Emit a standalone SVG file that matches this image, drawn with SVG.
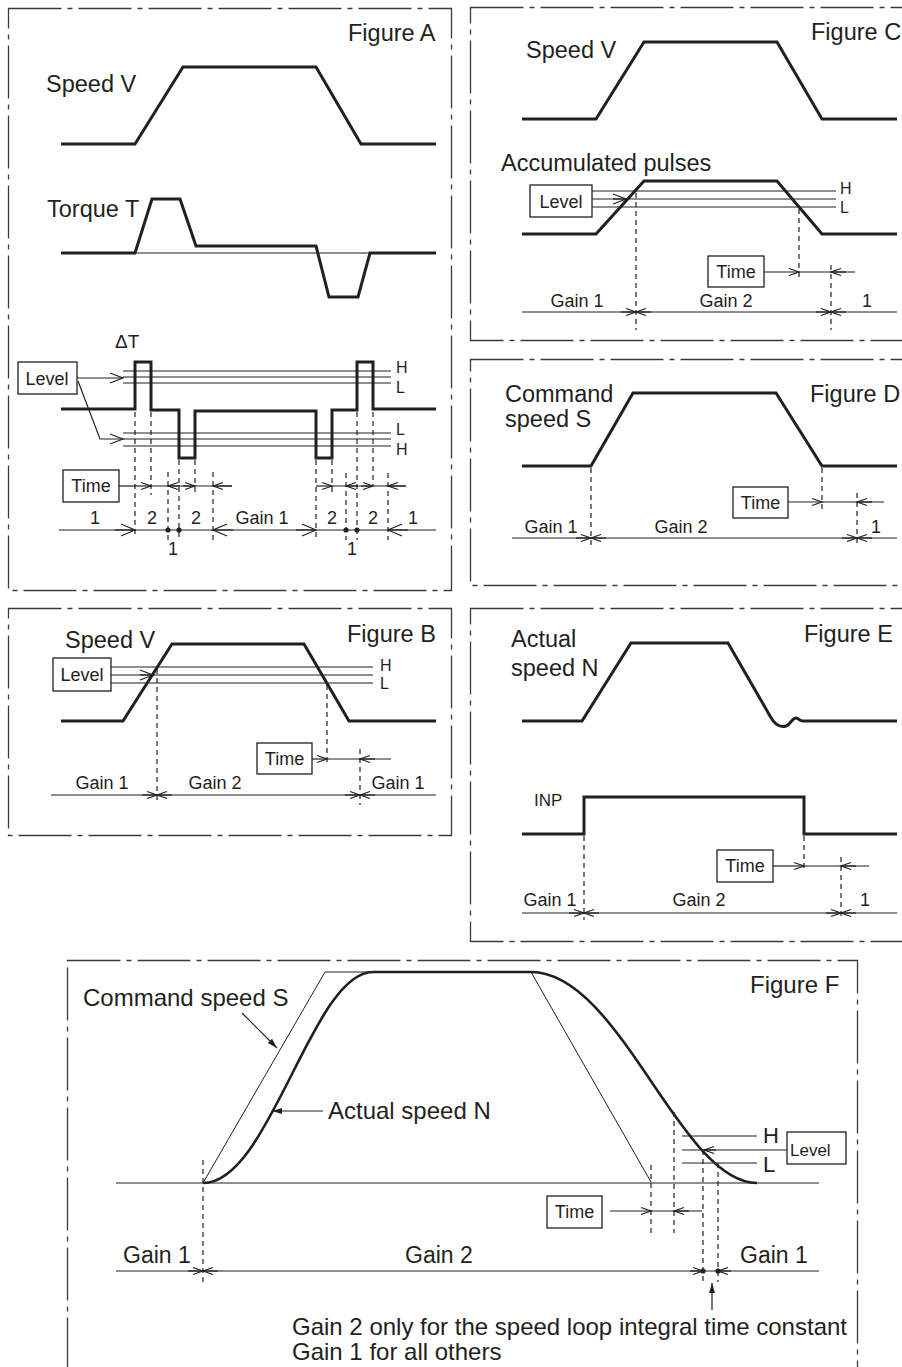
<svg xmlns="http://www.w3.org/2000/svg" width="902" height="1367" viewBox="0 0 902 1367">
<style>
.frame{fill:none;stroke:#3a3a3a;stroke-width:1.3;stroke-dasharray:53 6 5 6}
.thick{fill:none;stroke:#231f20;stroke-width:3;stroke-linejoin:miter}
.thin{fill:none;stroke:#231f20;stroke-width:1.2}
.dash{fill:none;stroke:#231f20;stroke-width:1.2;stroke-dasharray:5 4}
.box{fill:#fff;stroke:#231f20;stroke-width:1.3}
text{font-family:"Liberation Sans",Arial,sans-serif;fill:#231f20}
.big{font-size:23.5px}
.lbl{font-size:18px}
.hl{font-size:16px}
.m{text-anchor:middle}
</style>
<defs>
<marker id="a" viewBox="0 0 10 7" refX="10" refY="3.5" markerWidth="10" markerHeight="7" markerUnits="userSpaceOnUse" orient="auto" overflow="visible"><path d="M0,0 L10,3.5 L0,7" fill="none" stroke="#231f20" stroke-width="1.2"/></marker>
<marker id="lv" viewBox="0 0 13 10" refX="13" refY="5" markerWidth="13" markerHeight="10" markerUnits="userSpaceOnUse" orient="auto" overflow="visible"><path d="M0,0 L13,5 L0,10" fill="none" stroke="#231f20" stroke-width="1.2"/></marker>
<marker id="g" viewBox="0 0 14 12" refX="14" refY="6" markerWidth="14" markerHeight="12" markerUnits="userSpaceOnUse" orient="auto" overflow="visible"><path d="M0,0 L14,6 L0,12" fill="none" stroke="#231f20" stroke-width="1.2"/></marker>
<marker id="fa" viewBox="0 0 10 6" refX="10" refY="3" markerWidth="10" markerHeight="6" markerUnits="userSpaceOnUse" orient="auto" overflow="visible"><path d="M0,0 L10,3 L0,6 Z" fill="#231f20"/></marker>
</defs>
<rect width="902" height="1367" fill="#fff"/>

<g id="figureA">
<rect class="frame" x="8.5" y="8.5" width="443" height="582"/>
<text class="big" x="348" y="41">Figure A</text>
<text class="big" x="46" y="92">Speed V</text>
<path class="thick" d="M61,144 L135,144 L183,67 L316,67 L361,144 L436,144"/>
<text class="big" x="47" y="217">Torque T</text>
<line class="thin" x1="61" y1="253" x2="436" y2="253"/>
<path class="thick" d="M61,253 L135,253 L152,199 L180,199 L196,246 L316,246 L329,297 L358,297 L370,253 L436,253"/>
<text x="115" y="348" font-size="19">ΔT</text>
<g id="A-level">
<rect class="box" x="18" y="362" width="59" height="32"/>
<text class="lbl m" x="47" y="385">Level</text>
</g>
<g class="thin">
<line x1="123" y1="371" x2="391" y2="371"/><line x1="123" y1="377" x2="391" y2="377"/><line x1="123" y1="383" x2="391" y2="383"/>
<line x1="123" y1="433" x2="391" y2="433"/><line x1="123" y1="439" x2="391" y2="439"/><line x1="123" y1="446" x2="391" y2="446"/>
</g>
<text class="hl" x="396" y="373">H</text>
<text class="hl" x="396" y="393">L</text>
<text class="hl" x="396" y="435">L</text>
<text class="hl" x="396" y="455">H</text>
<path class="thick" d="M61,409 L135,409 L135,362 L151,362 L151,410 L179,410 L179,458 L195,458 L195,411 L316,411 L316,458 L332,458 L332,410 L357,410 L357,362 L373,362 L373,409 L436,409"/>
<g class="dash">
<line x1="135" y1="412" x2="135" y2="538"/><line x1="151" y1="412" x2="151" y2="495"/>
<line x1="168" y1="472" x2="168" y2="540"/><line x1="179" y1="460" x2="179" y2="540"/>
<line x1="195" y1="460" x2="195" y2="495"/><line x1="213" y1="472" x2="213" y2="540"/>
<line x1="316" y1="460" x2="316" y2="538"/><line x1="332" y1="460" x2="332" y2="495"/>
<line x1="346" y1="473" x2="346" y2="540"/><line x1="357" y1="412" x2="357" y2="540"/>
<line x1="373" y1="412" x2="373" y2="485"/><line x1="388" y1="473" x2="388" y2="540"/>
</g>
<g id="A-time">
<rect class="box" x="63" y="470" width="56" height="32"/>
<text class="lbl m" x="91" y="492">Time</text>
</g>
<g id="A-connectors">
<line class="thin" x1="77" y1="378" x2="123" y2="378" marker-end="url(#lv)"/>
<polyline class="thin" points="78,381 100,439 123,439" marker-end="url(#lv)"/>
<line class="thin" x1="119" y1="486" x2="151" y2="486" marker-end="url(#a)"/>
<line class="thin" x1="151" y1="486" x2="232" y2="486"/>
<line class="thin" x1="180" y1="486" x2="168" y2="486" marker-end="url(#a)"/>
<line class="thin" x1="183" y1="486" x2="195" y2="486" marker-end="url(#a)"/>
<line class="thin" x1="232" y1="486" x2="213" y2="486" marker-end="url(#a)"/>
<line class="thin" x1="316" y1="486" x2="332" y2="486" marker-end="url(#a)"/>
<line class="thin" x1="332" y1="486" x2="406" y2="486"/>
<line class="thin" x1="358" y1="486" x2="346" y2="486" marker-end="url(#a)"/>
<line class="thin" x1="361" y1="486" x2="373" y2="486" marker-end="url(#a)"/>
<line class="thin" x1="406" y1="486" x2="388" y2="486" marker-end="url(#a)"/>
<line class="thin" x1="59" y1="530" x2="436" y2="530"/>
<line class="thin" x1="115" y1="530" x2="135" y2="530" marker-end="url(#g)"/>
<line class="thin" x1="233" y1="530" x2="213" y2="530" marker-end="url(#g)"/>
<line class="thin" x1="296" y1="530" x2="316" y2="530" marker-end="url(#g)"/>
<line class="thin" x1="408" y1="530" x2="388" y2="530" marker-end="url(#g)"/>
<circle cx="168" cy="530" r="2.6" fill="#231f20"/><circle cx="179" cy="530" r="2.6" fill="#231f20"/>
<circle cx="346" cy="530" r="2.6" fill="#231f20"/><circle cx="357" cy="530" r="2.6" fill="#231f20"/>
</g>
<g class="lbl">
<text class="lbl m" x="95" y="524">1</text>
<text class="lbl m" x="152" y="524">2</text>
<text class="lbl m" x="196" y="524">2</text>
<text class="lbl m" x="262" y="524">Gain 1</text>
<text class="lbl m" x="332" y="524">2</text>
<text class="lbl m" x="373" y="524">2</text>
<text class="lbl m" x="413" y="524">1</text>
<text class="lbl m" x="173" y="555">1</text>
<text class="lbl m" x="352" y="555">1</text>
</g>
</g>

<g id="figureB">
<rect class="frame" x="8.5" y="608.5" width="443" height="227"/>
<text class="big" x="347" y="642">Figure B</text>
<text class="big" x="65" y="648">Speed V</text>
<g class="thin">
<line x1="111" y1="667" x2="373" y2="667"/><line x1="111" y1="675" x2="373" y2="675"/><line x1="111" y1="683" x2="373" y2="683"/>
</g>
<g id="B-level">
<rect class="box" x="53" y="658" width="58" height="33"/>
<text class="lbl m" x="82" y="681">Level</text>
</g>
<text class="hl" x="380" y="671">H</text>
<text class="hl" x="380" y="689">L</text>
<path class="thick" d="M61,721 L123,721 L172,644 L304,644 L349,721 L436,721"/>
<g class="dash">
<line x1="157" y1="669" x2="157" y2="802"/><line x1="327" y1="685" x2="327" y2="763"/><line x1="360" y1="749" x2="360" y2="805"/>
</g>
<g id="B-time">
<rect class="box" x="257" y="743" width="55" height="31"/>
<text class="lbl m" x="284.5" y="765">Time</text>
</g>
<g id="B-connectors">
<line class="thin" x1="140" y1="675" x2="153" y2="675" marker-end="url(#lv)"/>
<line class="thin" x1="312" y1="759" x2="327" y2="759" marker-end="url(#a)"/>
<line class="thin" x1="327" y1="759" x2="391" y2="759"/>
<line class="thin" x1="375" y1="759" x2="360" y2="759" marker-end="url(#a)"/>
<line class="thin" x1="51" y1="795" x2="436" y2="795"/>
<line class="thin" x1="142" y1="795" x2="157" y2="795" marker-end="url(#a)"/>
<line class="thin" x1="172" y1="795" x2="157" y2="795" marker-end="url(#a)"/>
<line class="thin" x1="345" y1="795" x2="360" y2="795" marker-end="url(#a)"/>
<line class="thin" x1="375" y1="795" x2="360" y2="795" marker-end="url(#a)"/>
</g>
<text class="lbl m" x="102" y="789">Gain 1</text>
<text class="lbl m" x="215" y="789">Gain 2</text>
<text class="lbl m" x="398" y="789">Gain 1</text>
</g>

<g id="figureC">
<rect class="frame" x="470.5" y="7.5" width="445" height="333"/>
<text class="big" x="811" y="40">Figure C</text>
<text class="big" x="526" y="58">Speed V</text>
<path class="thick" d="M522,119 L596,119 L644,42 L777,42 L822,119 L897,119"/>
<text class="big" x="501" y="171">Accumulated pulses</text>
<g class="thin">
<line x1="592" y1="191" x2="836" y2="191"/><line x1="592" y1="199" x2="836" y2="199"/><line x1="592" y1="207" x2="836" y2="207"/>
</g>
<path class="thick" d="M522,234 L596,234 L644,181 L777,181 L822,234 L897,234"/>
<g id="C-level">
<rect class="box" x="530" y="185" width="62" height="32"/>
<text class="lbl m" x="561" y="208">Level</text>
</g>
<text class="hl" x="840" y="194">H</text>
<text class="hl" x="840" y="213">L</text>
<g class="dash">
<line x1="636" y1="193" x2="636" y2="330"/><line x1="799" y1="209" x2="799" y2="277"/><line x1="831" y1="265" x2="831" y2="330"/>
</g>
<g id="C-time">
<rect class="box" x="708" y="256" width="56" height="31"/>
<text class="lbl m" x="736" y="278">Time</text>
</g>
<g id="C-connectors">
<line class="thin" x1="613" y1="199" x2="626" y2="199" marker-end="url(#lv)"/>
<line class="thin" x1="764" y1="272" x2="799" y2="272" marker-end="url(#a)"/>
<line class="thin" x1="799" y1="272" x2="855" y2="272"/>
<line class="thin" x1="846" y1="272" x2="831" y2="272" marker-end="url(#a)"/>
<line class="thin" x1="522" y1="312" x2="897" y2="312"/>
<line class="thin" x1="621" y1="312" x2="636" y2="312" marker-end="url(#a)"/>
<line class="thin" x1="651" y1="312" x2="636" y2="312" marker-end="url(#a)"/>
<line class="thin" x1="816" y1="312" x2="831" y2="312" marker-end="url(#a)"/>
<line class="thin" x1="846" y1="312" x2="831" y2="312" marker-end="url(#a)"/>
</g>
<text class="lbl m" x="577" y="307">Gain 1</text>
<text class="lbl m" x="726" y="307">Gain 2</text>
<text class="lbl m" x="867" y="307">1</text>
</g>

<g id="figureD">
<rect class="frame" x="470.5" y="359.5" width="445" height="226"/>
<text class="big" x="505" y="402">Command</text>
<text class="big" x="505" y="427">speed S</text>
<text class="big" x="810" y="402">Figure D</text>
<path class="thick" d="M522,466 L591,466 L633,393 L776,393 L822,466 L897,466"/>
<g class="dash">
<line x1="591" y1="468" x2="591" y2="547"/><line x1="822" y1="468" x2="822" y2="512"/><line x1="857" y1="493" x2="857" y2="547"/>
</g>
<g id="D-time">
<rect class="box" x="733" y="487" width="55" height="31"/>
<text class="lbl m" x="760.5" y="509">Time</text>
</g>
<g id="D-connectors">
<line class="thin" x1="788" y1="502" x2="822" y2="502" marker-end="url(#a)"/>
<line class="thin" x1="822" y1="502" x2="884" y2="502"/>
<line class="thin" x1="872" y1="502" x2="857" y2="502" marker-end="url(#a)"/>
<line class="thin" x1="512" y1="538" x2="897" y2="538"/>
<line class="thin" x1="576" y1="538" x2="591" y2="538" marker-end="url(#a)"/>
<line class="thin" x1="606" y1="538" x2="591" y2="538" marker-end="url(#a)"/>
<line class="thin" x1="842" y1="538" x2="857" y2="538" marker-end="url(#a)"/>
<line class="thin" x1="872" y1="538" x2="857" y2="538" marker-end="url(#a)"/>
</g>
<text class="lbl m" x="551" y="533">Gain 1</text>
<text class="lbl m" x="681" y="533">Gain 2</text>
<text class="lbl m" x="876" y="533">1</text>
</g>

<g id="figureE">
<rect class="frame" x="470.5" y="608.5" width="445" height="333"/>
<text class="big" x="511" y="647">Actual</text>
<text class="big" x="511" y="676">speed N</text>
<text class="big" x="804" y="642">Figure E</text>
<path class="thick" d="M522,721 L582,721 L631,643 L728,643 L770,716 C775,725 780,728 786,726 C791,724 792,718 796,718 C799,718 799,721 803,721 L897,721"/>
<text x="534" y="806" font-size="17">INP</text>
<path class="thick" d="M522,834 L584,834 L584,797 L804,797 L804,834 L897,834"/>
<g class="dash">
<line x1="584" y1="836" x2="584" y2="920"/><line x1="804" y1="836" x2="804" y2="872"/><line x1="841" y1="857" x2="841" y2="920"/>
</g>
<g id="E-time">
<rect class="box" x="717" y="850" width="56" height="32"/>
<text class="lbl m" x="745" y="872">Time</text>
</g>
<g id="E-connectors">
<line class="thin" x1="773" y1="866" x2="804" y2="866" marker-end="url(#a)"/>
<line class="thin" x1="804" y1="866" x2="869" y2="866"/>
<line class="thin" x1="856" y1="866" x2="841" y2="866" marker-end="url(#a)"/>
<line class="thin" x1="522" y1="913" x2="897" y2="913"/>
<line class="thin" x1="569" y1="913" x2="584" y2="913" marker-end="url(#a)"/>
<line class="thin" x1="599" y1="913" x2="584" y2="913" marker-end="url(#a)"/>
<line class="thin" x1="826" y1="913" x2="841" y2="913" marker-end="url(#a)"/>
<line class="thin" x1="856" y1="913" x2="841" y2="913" marker-end="url(#a)"/>
</g>
<text class="lbl m" x="550" y="906">Gain 1</text>
<text class="lbl m" x="699" y="906">Gain 2</text>
<text class="lbl m" x="865" y="906">1</text>
</g>

<g id="figureF">
<rect class="frame" x="67.5" y="960.5" width="790" height="430"/>
<text x="750" y="993" font-size="24">Figure F</text>
<text x="83" y="1006" font-size="24">Command speed S</text>
<line class="thin" x1="116" y1="1183" x2="819" y2="1183"/>
<path fill="none" stroke="#231f20" stroke-width="1" d="M203,1183 L325,972 L531,972 L651,1182"/>
<path fill="none" stroke="#231f20" stroke-width="2.6" d="M203,1183 C270,1183 312,972 373,972 L531,972 C620,972 680,1183 757,1183"/>
<text x="328" y="1119" font-size="24">Actual speed N</text>
<g class="thin">
<line x1="682" y1="1136" x2="757" y2="1136"/><line x1="682" y1="1150" x2="787" y2="1150"/><line x1="682" y1="1163" x2="757" y2="1163"/>
</g>
<text x="763" y="1143" font-size="22">H</text>
<text x="763" y="1172" font-size="22">L</text>
<g id="F-level">
<rect class="box" x="787" y="1132" width="59" height="32"/>
<text x="790" y="1156" font-size="17">Level</text>
</g>
<g class="dash">
<line x1="203" y1="1160" x2="203" y2="1283"/><line x1="651" y1="1165" x2="651" y2="1233"/>
<line x1="674" y1="1112" x2="674" y2="1233"/><line x1="703" y1="1150" x2="703" y2="1282"/>
<line x1="718" y1="1163" x2="718" y2="1282"/>
</g>
<g id="F-time">
<rect class="box" x="547" y="1196" width="55" height="32"/>
<text class="lbl m" x="574.5" y="1218">Time</text>
</g>
<g id="F-connectors">
<line stroke="#231f20" stroke-width="1.2" x1="242" y1="1013" x2="277" y2="1048" marker-end="url(#fa)"/>
<line stroke="#231f20" stroke-width="1.2" x1="323" y1="1111" x2="272" y2="1111" marker-end="url(#fa)"/>
<line class="thin" x1="716" y1="1150" x2="704" y2="1150" marker-end="url(#a)"/>
<line class="thin" x1="610" y1="1211" x2="651" y2="1211" marker-end="url(#a)"/>
<line class="thin" x1="651" y1="1211" x2="702" y2="1211"/>
<line class="thin" x1="689" y1="1211" x2="674" y2="1211" marker-end="url(#a)"/>
<line class="thin" x1="116" y1="1271" x2="819" y2="1271"/>
<line class="thin" x1="188" y1="1271" x2="203" y2="1271" marker-end="url(#a)"/>
<line class="thin" x1="218" y1="1271" x2="203" y2="1271" marker-end="url(#a)"/>
<line class="thin" x1="690" y1="1271" x2="703" y2="1271" marker-end="url(#a)"/>
<line class="thin" x1="731" y1="1271" x2="718" y2="1271" marker-end="url(#a)"/>
<circle cx="703" cy="1271" r="2.6" fill="#231f20"/><circle cx="718" cy="1271" r="2.6" fill="#231f20"/>
<line stroke="#231f20" stroke-width="1.2" x1="712" y1="1310" x2="712" y2="1283" marker-end="url(#fa)"/>
</g>
<text x="123" y="1263" font-size="23">Gain 1</text>
<text x="405" y="1263" font-size="23">Gain 2</text>
<text x="740" y="1263" font-size="23">Gain 1</text>
<text x="292" y="1335" font-size="24">Gain 2 only for the speed loop integral time constant</text>
<text x="292" y="1360" font-size="24">Gain 1 for all others</text>
</g>
</svg>
